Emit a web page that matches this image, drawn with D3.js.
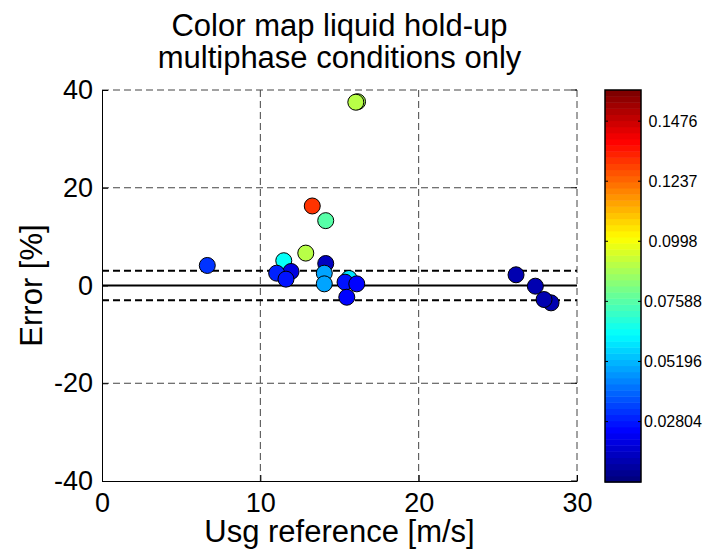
<!DOCTYPE html>
<html>
<head>
<meta charset="utf-8">
<script src="https://cdn.jsdelivr.net/npm/d3@7"></script>
<style>
body { margin: 0; background: #fff; }
svg { display: block; }
text { font-family: "Liberation Sans", Arial, sans-serif; fill: #000; }
.grid line { stroke: #444; stroke-width: 1; stroke-dasharray: 7,4; }
.band { stroke: #000; stroke-width: 2; stroke-dasharray: 7,4; fill: none; }
.zero { stroke: #000; stroke-width: 2; }
.dot { stroke: #000; stroke-width: 1; }
</style>
</head>
<body>
<svg width="706" height="552"></svg>
<script>
// Usg reference [m/s], error [%], liquid hold-up (colour)
var usg    = [6.65, 11.48, 11.94, 11.03, 11.62, 12.87, 13.28, 14.13, 14.13, 14.04, 14.04, 15.60, 15.35, 16.09, 15.46, 16.14, 16.03, 26.15, 27.37, 28.36, 27.92];
var errs   = [4.1, 5.07, 2.87, 2.52, 1.3, 6.63, 16.27, 13.27, 4.5, 2.52, 0.34, 1.44, 0.68, 0.34, -2.4, 37.6, 37.5, 2.19, -0.14, -3.55, -2.87];
var holdup = [0.031, 0.063, 0.020, 0.029, 0.027, 0.090, 0.133, 0.077, 0.016, 0.050, 0.048, 0.058, 0.027, 0.025, 0.024, 0.089, 0.090, 0.012, 0.012, 0.012, 0.012];

var xTicks = [0, 10, 20, 30];
var yTicks = [-40, -20, 0, 20, 40];
var cTicks = [0.02804, 0.05196, 0.07588, 0.0998, 0.1237, 0.1476];
var cRange = [0.0040, 0.1600];
var limit = 3;   // +-3 % band

var svg = d3.select("svg");

var pLeft = 102, pTop = 90, pRight = 577, pBottom = 481;

var x = d3.scaleLinear().domain([0, 30]).range([pLeft, pRight]);
var y = d3.scaleLinear().domain([-40, 40]).range([pBottom, pTop]);

// matlab jet
function jet(t) {
  function c(v) { return Math.max(0, Math.min(1, v)); }
  var r = c(1.5 - Math.abs(4 * t - 3)),
      g = c(1.5 - Math.abs(4 * t - 2)),
      b = c(1.5 - Math.abs(4 * t - 1));
  return d3.rgb(r * 255, g * 255, b * 255).formatHex();
}
var jetColors = d3.range(64).map(function(i) { return jet(i / 63); });
var color = d3.scaleQuantize().domain(cRange).range(jetColors);

// grid
var grid = svg.append("g").attr("class", "grid");
grid.selectAll(".gx")
  .data(xTicks.filter(function(d) { return d > 0; }))
  .enter().append("line")
    .attr("x1", function(d) { return x(d); })
    .attr("x2", function(d) { return x(d); })
    .attr("y1", pTop)
    .attr("y2", pBottom);
grid.selectAll(".gy")
  .data(yTicks.filter(function(d) { return d > -40; }))
  .enter().append("line")
    .attr("x1", pLeft)
    .attr("x2", pRight)
    .attr("y1", function(d) { return y(d); })
    .attr("y2", function(d) { return y(d); });

// axes (left + bottom only, ticks inside)
var plain = function(d) { return String(d); };
var xAxis = d3.axisBottom(x).tickValues(xTicks).tickFormat(plain).tickSizeInner(-6).tickSizeOuter(0).tickPadding(12);
var yAxis = d3.axisLeft(y).tickValues(yTicks).tickFormat(plain).tickSizeInner(-6).tickSizeOuter(0).tickPadding(9);

var gx = svg.append("g").attr("transform", "translate(0," + pBottom + ")").call(xAxis);
var gy = svg.append("g").attr("transform", "translate(" + pLeft + ",0)").call(yAxis);
[gx, gy].forEach(function(g) {
  g.select(".domain").attr("stroke", "#000").attr("stroke-width", 1);
  g.selectAll(".tick line").attr("stroke", "#000");
  g.selectAll("text")
    .style("font-family", "'Liberation Sans', Arial, sans-serif")
    .style("font-size", "27px")
    .attr("fill", "#000");
});
gx.selectAll("text").attr("dy", "0.71em");

// right-side ticks
svg.append("g").selectAll("line")
  .data(yTicks)
  .enter().append("line")
    .attr("x1", pRight - 6).attr("x2", pRight)
    .attr("y1", function(d) { return y(d); })
    .attr("y2", function(d) { return y(d); })
    .attr("stroke", "#000");

// zero line and +-3 % band
svg.append("line").attr("class", "zero")
  .attr("x1", x(0)).attr("x2", x(30))
  .attr("y1", y(0)).attr("y2", y(0));
svg.selectAll(".band")
  .data([limit, -limit])
  .enter().append("line")
    .attr("class", "band")
    .attr("x1", x(0)).attr("x2", x(30))
    .attr("y1", function(d) { return y(d); })
    .attr("y2", function(d) { return y(d); });

// points
svg.append("g").selectAll("circle")
  .data(d3.range(usg.length))
  .enter().append("circle")
    .attr("class", "dot")
    .attr("cx", function(i) { return x(usg[i]); })
    .attr("cy", function(i) { return y(errs[i]); })
    .attr("r", 8)
    .attr("fill", function(i) { return color(holdup[i]); });

// title and labels
svg.append("text")
  .attr("x", (pLeft + pRight) / 2).attr("y", 36)
  .attr("text-anchor", "middle")
  .style("font-size", "31px")
  .text("Color map liquid hold-up");
svg.append("text")
  .attr("x", (pLeft + pRight) / 2).attr("y", 68)
  .attr("text-anchor", "middle")
  .style("font-size", "31px")
  .text("multiphase conditions only");
svg.append("text")
  .attr("x", (pLeft + pRight) / 2).attr("y", 542)
  .attr("text-anchor", "middle")
  .style("font-size", "31px")
  .text("Usg reference [m/s]");
svg.append("text")
  .attr("transform", "translate(42," + ((pTop + pBottom) / 2) + ") rotate(-90)")
  .attr("text-anchor", "middle")
  .style("font-size", "31px")
  .text("Error [%]");

// colorbar
var cbLeft = 605, cbRight = 641, cbTop = 90, cbBottom = 482;
var cy = d3.scaleLinear().domain(cRange).range([cbBottom, cbTop]);
var step = (cRange[1] - cRange[0]) / 64;
var cb = svg.append("g");
cb.selectAll("rect")
  .data(jetColors)
  .enter().append("rect")
    .attr("x", cbLeft)
    .attr("width", cbRight - cbLeft)
    .attr("y", function(d, i) { return cy(cRange[0] + (i + 1) * step); })
    .attr("height", function(d, i) { return cy(cRange[0] + i * step) - cy(cRange[0] + (i + 1) * step) + 0.5; })
    .attr("fill", function(d) { return d; });
cb.append("rect")
  .attr("x", cbLeft).attr("y", cbTop)
  .attr("width", cbRight - cbLeft).attr("height", cbBottom - cbTop)
  .attr("fill", "none").attr("stroke", "#000").attr("stroke-width", 1.5);
cb.selectAll(".ct")
  .data(cTicks)
  .enter().append("line")
    .attr("x1", cbLeft).attr("x2", cbLeft + 3)
    .attr("y1", function(d) { return cy(d); })
    .attr("y2", function(d) { return cy(d); })
    .attr("stroke", "#000");
cb.selectAll(".ct2")
  .data(cTicks)
  .enter().append("line")
    .attr("x1", cbRight - 3).attr("x2", cbRight)
    .attr("y1", function(d) { return cy(d); })
    .attr("y2", function(d) { return cy(d); })
    .attr("stroke", "#000");
cb.selectAll("text")
  .data(cTicks)
  .enter().append("text")
    .attr("x", 673)
    .attr("y", function(d) { return cy(d); })
    .attr("dy", "0.36em")
    .attr("text-anchor", "middle")
    .style("font-size", "16px")
    .text(function(d) { return String(d); });
</script>
</body>
</html>
